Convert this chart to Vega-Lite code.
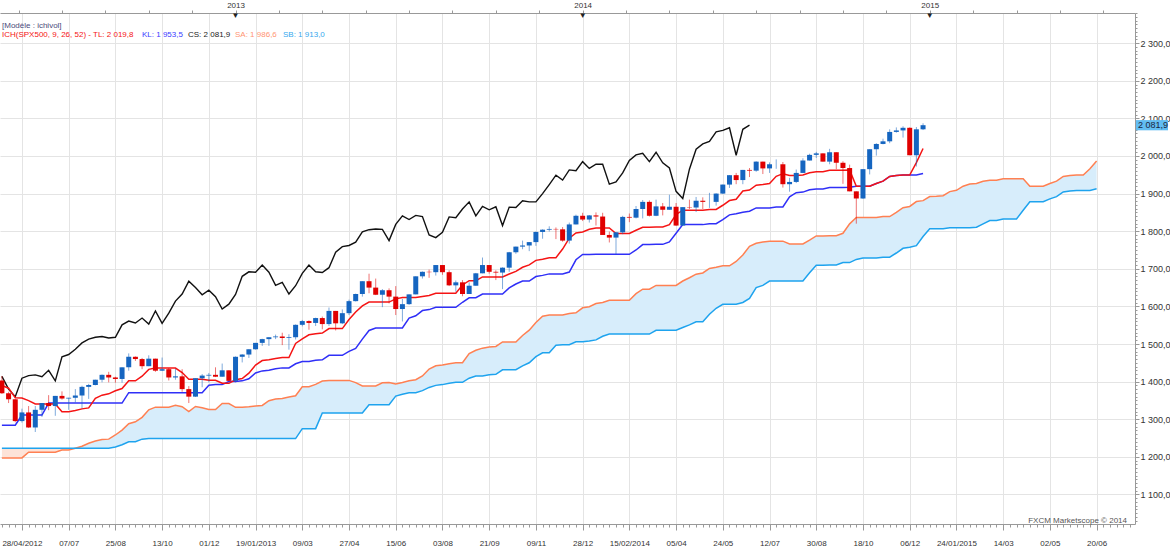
{
"$schema":"https://vega.github.io/schema/vega-lite/v6.json",
"width":1135,"height":511,
"autosize":{"type":"none"},
"padding":{"left":0,"top":13,"right":35,"bottom":29},
"background":"#ffffff",
"config":{"view":{"stroke":null},"font":"Liberation Sans"},
"datasets":{
"yr":[{"d":"2012-12-29"},{"d":"2013-12-28"},{"d":"2014-12-27"}],
"w":[
{"d":"2012-04-28","o":1403,"h":1415,"l":1367,"c":1369,"tl":1389.5,"kl":1284,"cs":1414,"sa":1197,"sb":1222.7},
{"d":"2012-05-05","o":1369,"h":1373,"l":1343,"c":1353,"tl":1382.5,"kl":1284,"cs":1380,"sa":1197,"sb":1222.7},
{"d":"2012-05-12","o":1353,"h":1354,"l":1292,"c":1295,"tl":1357,"kl":1284,"cs":1360,"sa":1197,"sb":1222.7},
{"d":"2012-05-19","o":1295,"h":1328,"l":1291,"c":1318,"tl":1356.5,"kl":1311,"cs":1409,"sa":1197,"sb":1222.7},
{"d":"2012-05-26","o":1318,"h":1335,"l":1277,"c":1278,"tl":1349.5,"kl":1311,"cs":1416,"sa":1212,"sb":1222.7},
{"d":"2012-06-02","o":1278,"h":1335,"l":1266,"c":1325,"tl":1340.5,"kl":1311,"cs":1418,"sa":1212,"sb":1222.7},
{"d":"2012-06-09","o":1325,"h":1343,"l":1306,"c":1343,"tl":1340.5,"kl":1311,"cs":1413,"sa":1212,"sb":1222.7},
{"d":"2012-06-16","o":1343,"h":1364,"l":1324,"c":1335,"tl":1340.5,"kl":1343,"cs":1430,"sa":1212,"sb":1222.7},
{"d":"2012-06-23","o":1335,"h":1362,"l":1309,"c":1362,"tl":1340.5,"kl":1343,"cs":1402,"sa":1212,"sb":1222.7},
{"d":"2012-06-30","o":1362,"h":1374,"l":1352,"c":1355,"tl":1320,"kl":1343,"cs":1466,"sa":1218,"sb":1222.7},
{"d":"2012-07-07","o":1355,"h":1357,"l":1325,"c":1357,"tl":1320,"kl":1343,"cs":1472,"sa":1218,"sb":1222.7},
{"d":"2012-07-14","o":1357,"h":1380,"l":1345,"c":1363,"tl":1323,"kl":1343,"cs":1486,"sa":1223,"sb":1222.7},
{"d":"2012-07-21","o":1363,"h":1389,"l":1329,"c":1386,"tl":1327.5,"kl":1343,"cs":1503,"sa":1228,"sb":1222.7},
{"d":"2012-07-28","o":1386,"h":1394,"l":1354,"c":1391,"tl":1330,"kl":1343,"cs":1513,"sa":1236,"sb":1222.7},
{"d":"2012-08-04","o":1391,"h":1405,"l":1390,"c":1405,"tl":1355.5,"kl":1343,"cs":1518,"sa":1242,"sb":1222.7},
{"d":"2012-08-11","o":1405,"h":1419,"l":1398,"c":1418,"tl":1364,"kl":1343,"cs":1520,"sa":1246,"sb":1222.7},
{"d":"2012-08-18","o":1418,"h":1426,"l":1398,"c":1411,"tl":1367.5,"kl":1343,"cs":1516,"sa":1247,"sb":1222.7},
{"d":"2012-08-25","o":1411,"h":1413,"l":1397,"c":1407,"tl":1375.5,"kl":1343,"cs":1518,"sa":1258,"sb":1226},
{"d":"2012-09-01","o":1407,"h":1438,"l":1397,"c":1438,"tl":1381.5,"kl":1343,"cs":1551,"sa":1271,"sb":1232},
{"d":"2012-09-08","o":1438,"h":1475,"l":1429,"c":1466,"tl":1402,"kl":1370.5,"cs":1561,"sa":1288,"sb":1240},
{"d":"2012-09-15","o":1466,"h":1467,"l":1455,"c":1460,"tl":1402,"kl":1370.5,"cs":1556,"sa":1293,"sb":1240},
{"d":"2012-09-22","o":1460,"h":1463,"l":1433,"c":1441,"tl":1414.5,"kl":1370.5,"cs":1569,"sa":1305,"sb":1247},
{"d":"2012-09-29","o":1441,"h":1470,"l":1441,"c":1461,"tl":1432.5,"kl":1370.5,"cs":1553,"sa":1325,"sb":1248.4},
{"d":"2012-10-06","o":1461,"h":1461,"l":1426,"c":1429,"tl":1436,"kl":1370.5,"cs":1588,"sa":1332,"sb":1248.4},
{"d":"2012-10-13","o":1429,"h":1464,"l":1428,"c":1433,"tl":1436,"kl":1370.5,"cs":1555,"sa":1332,"sb":1248.4},
{"d":"2012-10-20","o":1433,"h":1436,"l":1403,"c":1411,"tl":1436,"kl":1370.5,"cs":1582,"sa":1332,"sb":1248.4},
{"d":"2012-10-27","o":1411,"h":1434,"l":1405,"c":1414,"tl":1436,"kl":1370.5,"cs":1614,"sa":1336.75,"sb":1248.4},
{"d":"2012-11-03","o":1414,"h":1433,"l":1373,"c":1380,"tl":1424,"kl":1370.5,"cs":1633,"sa":1333.25,"sb":1248.4},
{"d":"2012-11-10","o":1380,"h":1388,"l":1343,"c":1360,"tl":1406.5,"kl":1370.5,"cs":1667,"sa":1320.5,"sb":1248.4},
{"d":"2012-11-17","o":1360,"h":1409,"l":1359,"c":1409,"tl":1406.5,"kl":1370.5,"cs":1650,"sa":1333.75,"sb":1248.4},
{"d":"2012-11-24","o":1409,"h":1420,"l":1385,"c":1416,"tl":1406.5,"kl":1370.5,"cs":1631,"sa":1330.25,"sb":1248.4},
{"d":"2012-12-01","o":1416,"h":1423,"l":1398,"c":1418,"tl":1403.5,"kl":1390.5,"cs":1643,"sa":1325.75,"sb":1248.4},
{"d":"2012-12-08","o":1418,"h":1438,"l":1412,"c":1413,"tl":1403.5,"kl":1392,"cs":1626,"sa":1325.75,"sb":1248.4},
{"d":"2012-12-15","o":1413,"h":1448,"l":1413,"c":1430,"tl":1395.5,"kl":1392,"cs":1593,"sa":1341.75,"sb":1248.4},
{"d":"2012-12-22","o":1430,"h":1430,"l":1401,"c":1402,"tl":1395.5,"kl":1400,"cs":1606,"sa":1341.75,"sb":1248.4},
{"d":"2012-12-29","o":1402,"h":1467,"l":1398,"c":1466,"tl":1405,"kl":1400,"cs":1632,"sa":1331.5,"sb":1248.4},
{"d":"2013-01-05","o":1466,"h":1473,"l":1451,"c":1472,"tl":1408,"kl":1402,"cs":1680,"sa":1331.5,"sb":1248.4},
{"d":"2013-01-12","o":1472,"h":1486,"l":1463,"c":1486,"tl":1422.5,"kl":1407.5,"cs":1692,"sa":1333,"sb":1248.4},
{"d":"2013-01-19","o":1486,"h":1503,"l":1485,"c":1503,"tl":1444,"kl":1423,"cs":1691,"sa":1335.25,"sb":1248.4},
{"d":"2013-01-26","o":1503,"h":1514,"l":1495,"c":1513,"tl":1456,"kl":1428.5,"cs":1710,"sa":1336.5,"sb":1248.4},
{"d":"2013-02-02","o":1513,"h":1518,"l":1495,"c":1518,"tl":1458,"kl":1430.5,"cs":1691,"sa":1349.25,"sb":1248.4},
{"d":"2013-02-09","o":1518,"h":1525,"l":1513,"c":1520,"tl":1461.5,"kl":1434,"cs":1656,"sa":1353.5,"sb":1248.4},
{"d":"2013-02-16","o":1520,"h":1530,"l":1497,"c":1516,"tl":1464,"kl":1436.5,"cs":1664,"sa":1355.25,"sb":1248.4},
{"d":"2013-02-23","o":1516,"h":1526,"l":1485,"c":1518,"tl":1464,"kl":1436.5,"cs":1633,"sa":1359.25,"sb":1248.4},
{"d":"2013-03-02","o":1518,"h":1552,"l":1512,"c":1551,"tl":1501.5,"kl":1447.5,"cs":1655,"sa":1362.25,"sb":1248.4},
{"d":"2013-03-09","o":1551,"h":1564,"l":1547,"c":1561,"tl":1513.5,"kl":1453.5,"cs":1688,"sa":1386.25,"sb":1274.9},
{"d":"2013-03-16","o":1561,"h":1563,"l":1538,"c":1556,"tl":1524.5,"kl":1453.5,"cs":1710,"sa":1386.25,"sb":1274.9},
{"d":"2013-03-23","o":1556,"h":1570,"l":1548,"c":1569,"tl":1527.5,"kl":1456.5,"cs":1692,"sa":1392.5,"sb":1274.9},
{"d":"2013-03-30","o":1569,"h":1573,"l":1539,"c":1553,"tl":1529,"kl":1458,"cs":1690,"sa":1401.5,"sb":1316.8},
{"d":"2013-04-06","o":1553,"h":1597,"l":1548,"c":1588,"tl":1541,"kl":1470,"cs":1703,"sa":1403.25,"sb":1316.8},
{"d":"2013-04-13","o":1588,"h":1588,"l":1536,"c":1555,"tl":1541,"kl":1470,"cs":1744,"sa":1403.25,"sb":1316.8},
{"d":"2013-04-20","o":1555,"h":1592,"l":1553,"c":1582,"tl":1541,"kl":1470,"cs":1759,"sa":1403.25,"sb":1316.8},
{"d":"2013-04-27","o":1582,"h":1618,"l":1577,"c":1614,"tl":1565,"kl":1480.5,"cs":1762,"sa":1403.25,"sb":1316.8},
{"d":"2013-05-04","o":1614,"h":1634,"l":1613,"c":1633,"tl":1585,"kl":1488.5,"cs":1771,"sa":1397.25,"sb":1316.8},
{"d":"2013-05-11","o":1633,"h":1667,"l":1626,"c":1667,"tl":1601.5,"kl":1513,"cs":1798,"sa":1388.5,"sb":1316.8},
{"d":"2013-05-18","o":1667,"h":1687,"l":1635,"c":1650,"tl":1611.5,"kl":1536,"cs":1804,"sa":1388.5,"sb":1338.7},
{"d":"2013-05-25","o":1650,"h":1674,"l":1630,"c":1631,"tl":1611.5,"kl":1542.5,"cs":1806,"sa":1388.5,"sb":1338.7},
{"d":"2013-06-01","o":1631,"h":1646,"l":1598,"c":1643,"tl":1611.5,"kl":1542.5,"cs":1805,"sa":1397,"sb":1338.7},
{"d":"2013-06-08","o":1643,"h":1648,"l":1608,"c":1626,"tl":1611.5,"kl":1542.5,"cs":1775,"sa":1397.75,"sb":1338.7},
{"d":"2013-06-15","o":1626,"h":1654,"l":1577,"c":1593,"tl":1620,"kl":1542.5,"cs":1818,"sa":1393.75,"sb":1361.5},
{"d":"2013-06-22","o":1593,"h":1620,"l":1560,"c":1606,"tl":1623.5,"kl":1542.5,"cs":1841,"sa":1397.75,"sb":1366.5},
{"d":"2013-06-29","o":1606,"h":1632,"l":1604,"c":1632,"tl":1623.5,"kl":1569,"cs":1831,"sa":1402.5,"sb":1370.5},
{"d":"2013-07-06","o":1632,"h":1680,"l":1632,"c":1680,"tl":1623.5,"kl":1575,"cs":1842,"sa":1405,"sb":1370.5},
{"d":"2013-07-13","o":1680,"h":1693,"l":1674,"c":1692,"tl":1626.5,"kl":1589,"cs":1839,"sa":1415,"sb":1376},
{"d":"2013-07-20","o":1692,"h":1698,"l":1676,"c":1691,"tl":1629,"kl":1591.5,"cs":1790,"sa":1433.5,"sb":1384.5},
{"d":"2013-07-27","o":1691,"h":1710,"l":1682,"c":1710,"tl":1635,"kl":1597.5,"cs":1783,"sa":1442.25,"sb":1390},
{"d":"2013-08-03","o":1710,"h":1710,"l":1684,"c":1691,"tl":1635,"kl":1597.5,"cs":1797,"sa":1444.25,"sb":1392},
{"d":"2013-08-10","o":1691,"h":1696,"l":1654,"c":1656,"tl":1635,"kl":1597.5,"cs":1838,"sa":1447.75,"sb":1395.5},
{"d":"2013-08-17","o":1656,"h":1669,"l":1639,"c":1664,"tl":1635,"kl":1597.5,"cs":1836,"sa":1450.25,"sb":1398},
{"d":"2013-08-24","o":1664,"h":1670,"l":1627,"c":1633,"tl":1657,"kl":1611,"cs":1859,"sa":1450.25,"sb":1398},
{"d":"2013-08-31","o":1633,"h":1664,"l":1633,"c":1655,"tl":1668.5,"kl":1623,"cs":1878,"sa":1474.5,"sb":1409},
{"d":"2013-09-07","o":1655,"h":1689,"l":1655,"c":1688,"tl":1668.5,"kl":1623,"cs":1841,"sa":1483.5,"sb":1415},
{"d":"2013-09-14","o":1688,"h":1730,"l":1688,"c":1710,"tl":1678.5,"kl":1633,"cs":1866,"sa":1489,"sb":1415},
{"d":"2013-09-21","o":1710,"h":1710,"l":1687,"c":1692,"tl":1678.5,"kl":1633,"cs":1857,"sa":1492,"sb":1418},
{"d":"2013-09-28","o":1692,"h":1696,"l":1670,"c":1690,"tl":1678.5,"kl":1633,"cs":1865,"sa":1493.5,"sb":1419.5},
{"d":"2013-10-05","o":1690,"h":1704,"l":1646,"c":1703,"tl":1678.5,"kl":1633,"cs":1815,"sa":1505.5,"sb":1431.5},
{"d":"2013-10-12","o":1703,"h":1745,"l":1692,"c":1744,"tl":1686,"kl":1649,"cs":1864,"sa":1505.5,"sb":1431.5},
{"d":"2013-10-19","o":1744,"h":1759,"l":1740,"c":1759,"tl":1693,"kl":1659.5,"cs":1863,"sa":1505.5,"sb":1431.5},
{"d":"2013-10-26","o":1759,"h":1775,"l":1752,"c":1762,"tl":1704,"kl":1667.5,"cs":1881,"sa":1522.75,"sb":1442},
{"d":"2013-11-02","o":1762,"h":1771,"l":1747,"c":1771,"tl":1710.5,"kl":1667.5,"cs":1878,"sa":1536.75,"sb":1450},
{"d":"2013-11-09","o":1771,"h":1799,"l":1761,"c":1798,"tl":1722.5,"kl":1679.5,"cs":1878,"sa":1557.25,"sb":1466.5},
{"d":"2013-11-16","o":1798,"h":1805,"l":1780,"c":1804,"tl":1725.5,"kl":1682.5,"cs":1900,"sa":1573.75,"sb":1476.5},
{"d":"2013-11-23","o":1804,"h":1813,"l":1799,"c":1806,"tl":1729.5,"kl":1686.5,"cs":1924,"sa":1577,"sb":1476.5},
{"d":"2013-11-30","o":1806,"h":1810,"l":1779,"c":1805,"tl":1729.5,"kl":1686.5,"cs":1949,"sa":1577,"sb":1496.5},
{"d":"2013-12-07","o":1805,"h":1811,"l":1772,"c":1775,"tl":1752.5,"kl":1686.5,"cs":1936,"sa":1577,"sb":1498},
{"d":"2013-12-14","o":1775,"h":1823,"l":1767,"c":1818,"tl":1781.5,"kl":1691.5,"cs":1963,"sa":1581.25,"sb":1498},
{"d":"2013-12-21","o":1818,"h":1844,"l":1818,"c":1841,"tl":1795.5,"kl":1724,"cs":1961,"sa":1583,"sb":1506},
{"d":"2013-12-28","o":1841,"h":1849,"l":1827,"c":1831,"tl":1798,"kl":1738,"cs":1985,"sa":1596.25,"sb":1506},
{"d":"2014-01-04","o":1831,"h":1843,"l":1823,"c":1842,"tl":1805,"kl":1738,"cs":1967,"sa":1599.25,"sb":1508},
{"d":"2014-01-11","o":1842,"h":1850,"l":1815,"c":1839,"tl":1808.5,"kl":1738.5,"cs":1978,"sa":1607.75,"sb":1511},
{"d":"2014-01-18","o":1839,"h":1849,"l":1790,"c":1790,"tl":1808.5,"kl":1738.5,"cs":1978,"sa":1610.25,"sb":1520.5},
{"d":"2014-01-25","o":1790,"h":1799,"l":1770,"c":1783,"tl":1808.5,"kl":1738.5,"cs":1925,"sa":1616.25,"sb":1526.5},
{"d":"2014-02-01","o":1783,"h":1798,"l":1738,"c":1797,"tl":1794,"kl":1738.5,"cs":1931,"sa":1616.25,"sb":1526.5},
{"d":"2014-02-08","o":1797,"h":1841,"l":1792,"c":1838,"tl":1794,"kl":1738.5,"cs":1955,"sa":1616.25,"sb":1526.5},
{"d":"2014-02-15","o":1838,"h":1847,"l":1824,"c":1836,"tl":1794,"kl":1738.5,"cs":1988,"sa":1616.25,"sb":1526.5},
{"d":"2014-02-22","o":1836,"h":1867,"l":1834,"c":1859,"tl":1802.5,"kl":1750,"cs":2003,"sa":1634,"sb":1526.5},
{"d":"2014-03-01","o":1859,"h":1883,"l":1834,"c":1878,"tl":1810.5,"kl":1764.5,"cs":2007,"sa":1645.75,"sb":1526.5},
{"d":"2014-03-08","o":1878,"h":1882,"l":1839,"c":1841,"tl":1810.5,"kl":1764.5,"cs":1985,"sa":1645.75,"sb":1526.5},
{"d":"2014-03-15","o":1841,"h":1884,"l":1840,"c":1866,"tl":1811,"kl":1765,"cs":2010,"sa":1655.75,"sb":1536.5},
{"d":"2014-03-22","o":1866,"h":1875,"l":1842,"c":1857,"tl":1811,"kl":1765,"cs":1982,"sa":1655.75,"sb":1536.5},
{"d":"2014-03-29","o":1857,"h":1897,"l":1857,"c":1865,"tl":1817.5,"kl":1771.5,"cs":1968,"sa":1655.75,"sb":1536.5},
{"d":"2014-04-05","o":1865,"h":1875,"l":1814,"c":1815,"tl":1844.5,"kl":1794.5,"cs":1906,"sa":1655.75,"sb":1536.5},
{"d":"2014-04-12","o":1815,"h":1864,"l":1815,"c":1864,"tl":1855.5,"kl":1817.5,"cs":1887,"sa":1667.5,"sb":1544},
{"d":"2014-04-19","o":1864,"h":1884,"l":1859,"c":1863,"tl":1855.5,"kl":1817.5,"cs":1965,"sa":1676.25,"sb":1551},
{"d":"2014-04-26","o":1863,"h":1891,"l":1851,"c":1881,"tl":1855.5,"kl":1817.5,"cs":2018,"sa":1685.75,"sb":1559},
{"d":"2014-05-03","o":1881,"h":1890,"l":1859,"c":1878,"tl":1855.5,"kl":1817.5,"cs":2032,"sa":1689,"sb":1559},
{"d":"2014-05-10","o":1878,"h":1902,"l":1862,"c":1878,"tl":1858,"kl":1820,"cs":2039,"sa":1701,"sb":1579},
{"d":"2014-05-17","o":1878,"h":1901,"l":1868,"c":1900,"tl":1858,"kl":1820,"cs":2064,"sa":1704,"sb":1595},
{"d":"2014-05-24","o":1900,"h":1924,"l":1899,"c":1924,"tl":1869,"kl":1831,"cs":2068,"sa":1708,"sb":1605.5},
{"d":"2014-05-31","o":1924,"h":1949,"l":1915,"c":1949,"tl":1881.5,"kl":1843.5,"cs":2075,"sa":1708,"sb":1605.5},
{"d":"2014-06-07","o":1949,"h":1955,"l":1925,"c":1936,"tl":1885,"kl":1846.5,"cs":2002,"sa":1719.5,"sb":1605.5},
{"d":"2014-06-14","o":1936,"h":1963,"l":1925,"c":1963,"tl":1907,"kl":1850.5,"cs":2071,"sa":1736.5,"sb":1610.5},
{"d":"2014-06-21","o":1963,"h":1968,"l":1944,"c":1961,"tl":1909.5,"kl":1853,"cs":2081.9,"sa":1759.75,"sb":1621},
{"d":"2014-06-28","o":1961,"h":1986,"l":1958,"c":1985,"tl":1922.5,"kl":1862,"sa":1768,"sb":1650},
{"d":"2014-07-05","o":1985,"h":1985,"l":1952,"c":1967,"tl":1924,"kl":1862,"sa":1771.5,"sb":1656},
{"d":"2014-07-12","o":1967,"h":1983,"l":1955,"c":1978,"tl":1927,"kl":1862,"sa":1773.5,"sb":1667.5},
{"d":"2014-07-19","o":1978,"h":1991,"l":1966,"c":1978,"tl":1946,"kl":1864.5,"sa":1773.5,"sb":1667.5},
{"d":"2014-07-26","o":1978,"h":1984,"l":1916,"c":1925,"tl":1953,"kl":1864.5,"sa":1773.5,"sb":1667.5},
{"d":"2014-08-02","o":1925,"h":1942,"l":1905,"c":1931,"tl":1948,"kl":1891.5,"sa":1766.25,"sb":1667.5},
{"d":"2014-08-09","o":1931,"h":1964,"l":1928,"c":1955,"tl":1948,"kl":1902.5,"sa":1766.25,"sb":1667.5},
{"d":"2014-08-16","o":1955,"h":1994,"l":1955,"c":1988,"tl":1949.5,"kl":1904,"sa":1766.25,"sb":1667.5},
{"d":"2014-08-23","o":1988,"h":2006,"l":1988,"c":2003,"tl":1955.5,"kl":1910,"sa":1776.25,"sb":1689.5},
{"d":"2014-08-30","o":2003,"h":2011,"l":1995,"c":2007,"tl":1958,"kl":1912.5,"sa":1787.5,"sb":1709.5},
{"d":"2014-09-06","o":2007,"h":2007,"l":1985,"c":1985,"tl":1958,"kl":1912.5,"sa":1787.5,"sb":1709.5},
{"d":"2014-09-13","o":1985,"h":2019,"l":1978,"c":2010,"tl":1962,"kl":1916.5,"sa":1788,"sb":1710},
{"d":"2014-09-20","o":2010,"h":2010,"l":1965,"c":1982,"tl":1962,"kl":1916.5,"sa":1788,"sb":1710},
{"d":"2014-09-27","o":1982,"h":1986,"l":1926,"c":1968,"tl":1962,"kl":1916.5,"sa":1794.5,"sb":1716.5},
{"d":"2014-10-04","o":1968,"h":1977,"l":1906,"c":1906,"tl":1962.5,"kl":1917,"sa":1819.5,"sb":1716.5},
{"d":"2014-10-11","o":1906,"h":1906,"l":1820,"c":1887,"tl":1919.5,"kl":1919.5,"sa":1836.5,"sb":1725},
{"d":"2014-10-18","o":1887,"h":1965,"l":1886,"c":1965,"tl":1919.5,"kl":1919.5,"sa":1836.5,"sb":1728.5},
{"d":"2014-10-25","o":1965,"h":2018,"l":1951,"c":2018,"tl":1919.5,"kl":1919.5,"sa":1836.5,"sb":1728.5},
{"d":"2014-11-01","o":2018,"h":2034,"l":2001,"c":2032,"tl":1927,"kl":1927,"sa":1836.5,"sb":1728.5},
{"d":"2014-11-08","o":2032,"h":2046,"l":2031,"c":2039,"tl":1933,"kl":1933,"sa":1839,"sb":1731},
{"d":"2014-11-15","o":2039,"h":2071,"l":2034,"c":2064,"tl":1945.5,"kl":1945.5,"sa":1839,"sb":1731},
{"d":"2014-11-22","o":2064,"h":2076,"l":2062,"c":2068,"tl":1948,"kl":1948,"sa":1850,"sb":1742},
{"d":"2014-11-29","o":2068,"h":2079,"l":2049,"c":2075,"tl":1949.5,"kl":1949.5,"sa":1862.5,"sb":1754.5},
{"d":"2014-12-06","o":2075,"h":2076,"l":2002,"c":2002,"tl":1949.5,"kl":1949.5,"sa":1865.75,"sb":1757.5},
{"d":"2014-12-13","o":2002,"h":2077,"l":1972,"c":2071,"tl":1982.5,"kl":1949.5,"sa":1878.75,"sb":1761.5},
{"d":"2014-12-20","o":2071,"h":2087,"l":2069,"c":2081.9,"tl":2019.8,"kl":1953.5,"sa":1881.25,"sb":1786},
{"d":"2014-12-27","sa":1892.25,"sb":1806.5},
{"d":"2015-01-03","sa":1893,"sb":1806.5},
{"d":"2015-01-10","sa":1894.5,"sb":1806.5},
{"d":"2015-01-17","sa":1905.25,"sb":1809},
{"d":"2015-01-24","sa":1908.75,"sb":1809},
{"d":"2015-01-31","sa":1919.75,"sb":1809},
{"d":"2015-02-07","sa":1925.25,"sb":1809},
{"d":"2015-02-14","sa":1926.75,"sb":1810.5},
{"d":"2015-02-21","sa":1932.75,"sb":1819.5},
{"d":"2015-02-28","sa":1935.25,"sb":1828.5},
{"d":"2015-03-07","sa":1935.25,"sb":1828.5},
{"d":"2015-03-14","sa":1939.25,"sb":1832.5},
{"d":"2015-03-21","sa":1939.25,"sb":1832.5},
{"d":"2015-03-28","sa":1939.25,"sb":1832.5},
{"d":"2015-04-04","sa":1939.75,"sb":1855.5},
{"d":"2015-04-11","sa":1919.5,"sb":1878.5},
{"d":"2015-04-18","sa":1919.5,"sb":1878.5},
{"d":"2015-04-25","sa":1919.5,"sb":1878.5},
{"d":"2015-05-02","sa":1927,"sb":1886},
{"d":"2015-05-09","sa":1933,"sb":1892},
{"d":"2015-05-16","sa":1945.5,"sb":1904.5},
{"d":"2015-05-23","sa":1948,"sb":1907},
{"d":"2015-05-30","sa":1949.5,"sb":1908.5},
{"d":"2015-06-06","sa":1949.5,"sb":1908.5},
{"d":"2015-06-13","sa":1966,"sb":1908.5},
{"d":"2015-06-20","sa":1986.6,"sb":1913}
]},
"data":{"name":"w"},
"resolve":{"axis":{"x":"independent","y":"independent"}},
"layer":[
{"transform":[{"filter":"time(datum.d) >= 1342224000000"}],
 "mark":{"type":"area","color":"#d7edfb"},
 "encoding":{
  "x":{"field":"d","type":"temporal","scale":{"type":"utc","domain":[1335398400000,1438237118000],"nice":false,"padding":0},
   "axis":{"orient":"bottom","title":null,
    "values":{"expr":"sequence(1335571200000, 1437782400001, 604800000)"},
    "labelExpr":"datum.value < 1337385600000 || (datum.value - 1337385600000) % 4233600000 != 0 ? '' : (datum.value == 1337385600000 ? '28/04/2012' : (utcyear(datum.value) != utcyear(datum.value - 4233600000) ? utcFormat(datum.value, '%d/%m/%Y') : utcFormat(datum.value, '%d/%m')))",
    "tickSize":{"condition":{"test":"datum.value >= 1337385600000 && (datum.value - 1337385600000) % 4233600000 == 0","value":6},"value":3},
    "grid":true,"gridColor":"#e4e4e4",
    "gridOpacity":{"condition":{"test":"datum.value >= 1337385600000 && (datum.value - 1337385600000) % 4233600000 == 0","value":1},"value":0},
    "domainColor":"#999999","tickColor":"#999999",
    "labelFontSize":8,"labelColor":"#333333","labelPadding":9,"labelOverlap":false,"labelFlush":false,"labelBound":false,"labelAngle":0}},
  "y":{"field":"sa","type":"quantitative","scale":{"domain":[1021.3,2380.3],"zero":false,"nice":false},
   "axis":{"orient":"right","title":null,
    "values":[1100,1200,1300,1400,1500,1600,1700,1800,1900,2000,2100,2200,2300],
    "labelExpr":"replace(replace(format(datum.value, ',.1f'), ',', ' '), '.', ',')",
    "tickSize":4,"grid":true,"gridColor":"#e4e4e4",
    "domainColor":"#999999","tickColor":"#999999",
    "labelFontSize":9,"labelColor":"#333333","labelPadding":1,"labelOverlap":false,"labelFlush":false,"labelBound":false}},
  "y2":{"field":"sb"}
 }},
{"transform":[{"filter":"time(datum.d) <= 1342224000000"}],
 "mark":{"type":"area","color":"#fde3d8"},
 "encoding":{"x":{"field":"d","type":"temporal","axis":null},"y":{"field":"sa","type":"quantitative",
   "axis":{"orient":"right","title":null,"labels":false,"grid":false,"domain":false,"tickSize":2,"tickColor":"#999999",
    "values":[1030,1040,1050,1060,1070,1080,1090,1110,1120,1130,1140,1150,1160,1170,1180,1190,1210,1220,1230,1240,1250,1260,1270,1280,1290,1310,1320,1330,1340,1350,1360,1370,1380,1390,1410,1420,1430,1440,1450,1460,1470,1480,1490,1510,1520,1530,1540,1550,1560,1570,1580,1590,1610,1620,1630,1640,1650,1660,1670,1680,1690,1710,1720,1730,1740,1750,1760,1770,1780,1790,1810,1820,1830,1840,1850,1860,1870,1880,1890,1910,1920,1930,1940,1950,1960,1970,1980,1990,2010,2020,2030,2040,2050,2060,2070,2080,2090,2110,2120,2130,2140,2150,2160,2170,2180,2190,2210,2220,2230,2240,2250,2260,2270,2280,2290,2310,2320,2330,2340,2350,2360,2370,2380]}},
  "y2":{"field":"sb"}}},
{"mark":{"type":"line","color":"#ff8052","strokeWidth":1.5},
 "encoding":{"x":{"field":"d","type":"temporal","axis":null},"y":{"field":"sa","type":"quantitative","axis":null}}},
{"mark":{"type":"line","color":"#1ea3ee","strokeWidth":1.5},
 "encoding":{"x":{"field":"d","type":"temporal","axis":null},"y":{"field":"sb","type":"quantitative","axis":null}}},
{"transform":[{"filter":"isValid(datum.cs)"}],
 "mark":{"type":"line","color":"#111111","strokeWidth":1.4},
 "encoding":{"x":{"field":"d","type":"temporal","axis":null},"y":{"field":"cs","type":"quantitative","axis":null}}},
{"transform":[{"filter":"isValid(datum.kl)"}],
 "mark":{"type":"line","color":"#2f2ff7","strokeWidth":1.5},
 "encoding":{"x":{"field":"d","type":"temporal","axis":null},"y":{"field":"kl","type":"quantitative","axis":null}}},
{"transform":[{"filter":"isValid(datum.tl)"}],
 "mark":{"type":"line","color":"#f51414","strokeWidth":1.5},
 "encoding":{"x":{"field":"d","type":"temporal","axis":null},"y":{"field":"tl","type":"quantitative","axis":null}}},
{"transform":[{"filter":"isValid(datum.o)"}],
 "mark":{"type":"rule","strokeWidth":1,"opacity":0.55},
 "encoding":{"x":{"field":"d","type":"temporal","axis":null},"y":{"field":"l","type":"quantitative","axis":null},"y2":{"field":"h"},
  "color":{"condition":{"test":"datum.c >= datum.o","value":"#1565c0"},"value":"#e00000"}}},
{"transform":[{"filter":"isValid(datum.o)"}],
 "mark":{"type":"bar","size":5},
 "encoding":{"x":{"field":"d","type":"temporal","axis":null},"y":{"field":"o","type":"quantitative","axis":null},"y2":{"field":"c"},
  "color":{"condition":{"test":"datum.c >= datum.o","value":"#1565c0"},"value":"#e00000"}}},
{"data":{"name":"yr"},
 "mark":{"type":"text","text":"▼","baseline":"top","fontSize":8,"color":"#222222","dy":-1},
 "encoding":{"x":{"field":"d","type":"temporal",
   "axis":{"orient":"top","title":null,
    "values":{"expr":"sequence(1337083200000, 1438237118000, 3931200000)"},
    "labelExpr":"(datum.value - 1356739200000) % 31449600000 == 0 ? utcFormat(datum.value + 604800000, '%Y') : ''",
    "tickSize":3,"grid":false,"domainColor":"#999999","tickColor":"#999999",
    "labelFontSize":8,"labelColor":"#333333","labelPadding":1,"labelOverlap":false,"labelFlush":false,"labelBound":false}},
  "y":{"datum":2380.3,"type":"quantitative","axis":null}}},
{"data":{"values":[{}]},
 "mark":{"type":"text","text":"[Modèle : ichivol]","align":"left","baseline":"middle","fontSize":8,"color":"#4a4a7a"},
 "encoding":{"x":{"datum":1335579613600,"type":"temporal","axis":null},"y":{"datum":2345.7,"type":"quantitative","axis":null}}},
{"data":{"values":[{}]},
 "mark":{"type":"text","text":"ICH(SPX500, 9, 26, 52) -  TL: 2 019,8","align":"left","baseline":"middle","fontSize":8,"color":"#f51414"},
 "encoding":{"x":{"datum":1335579613600,"type":"temporal","axis":null},"y":{"datum":2320.5,"type":"quantitative","axis":null}}},
{"data":{"values":[{}]},
 "mark":{"type":"text","text":"KL: 1 953,5","align":"left","baseline":"middle","fontSize":8,"color":"#3b3bff"},
 "encoding":{"x":{"datum":1348264565600,"type":"temporal","axis":null},"y":{"datum":2320.5,"type":"quantitative","axis":null}}},
{"data":{"values":[{}]},
 "mark":{"type":"text","text":"CS: 2 081,9","align":"left","baseline":"middle","fontSize":8,"color":"#1a1a1a"},
 "encoding":{"x":{"datum":1352432478400,"type":"temporal","axis":null},"y":{"datum":2320.5,"type":"quantitative","axis":null}}},
{"data":{"values":[{}]},
 "mark":{"type":"text","text":"SA: 1 986,6","align":"left","baseline":"middle","fontSize":8,"color":"#ff9573"},
 "encoding":{"x":{"datum":1356690998000,"type":"temporal","axis":null},"y":{"datum":2320.5,"type":"quantitative","axis":null}}},
{"data":{"values":[{}]},
 "mark":{"type":"text","text":"SB: 1 913,0","align":"left","baseline":"middle","fontSize":8,"color":"#35a8ee"},
 "encoding":{"x":{"datum":1361040124400,"type":"temporal","axis":null},"y":{"datum":2320.5,"type":"quantitative","axis":null}}},
{"data":{"values":[{}]},
 "mark":{"type":"rect","color":"#62bdf3"},
 "encoding":{"x":{"datum":1438327724800,"type":"temporal","axis":null},"x2":{"datum":1441227142400},"y":{"datum":2095.5,"type":"quantitative","axis":null},"y2":{"datum":2068.3}}},
{"data":{"values":[{}]},
 "mark":{"type":"text","text":"2 081,9","align":"left","baseline":"middle","fontSize":9,"color":"#1b2640"},
 "encoding":{"x":{"datum":1438508938400,"type":"temporal","axis":null},"y":{"datum":2081.9,"type":"quantitative","axis":null}}},
{"data":{"values":[{}]},
 "mark":{"type":"text","text":"FXCM Marketscope © 2014","align":"right","baseline":"middle","fontSize":8,"color":"#555555"},
 "encoding":{"x":{"datum":1437512263600,"type":"temporal","axis":null},"y":{"datum":1029.3,"type":"quantitative","axis":null}}}
]
}
